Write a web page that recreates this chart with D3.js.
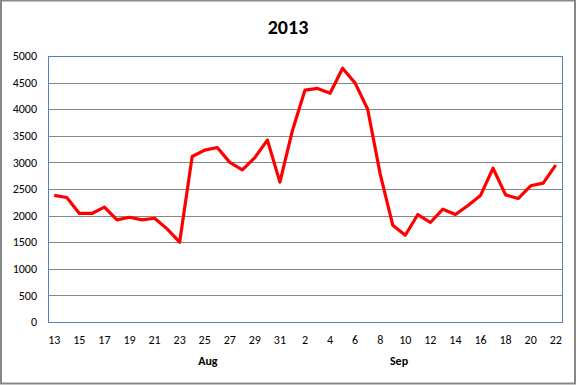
<!DOCTYPE html>
<html>
<head>
<meta charset="utf-8">
<script src="https://cdn.jsdelivr.net/npm/d3@7"></script>
<style>
  body { margin: 0; background: #fff; }
  svg { display: block; font-family: Carlito, Lato, 'Open Sans', sans-serif; }
</style>
</head>
<body>
<svg id="chart" width="577" height="385"></svg>
<script>
const title = '2013'
// days: Aug 13 .. Sep 22
const days = [13, 14, 15, 16, 17, 18, 19, 20, 21, 22, 23, 24, 25, 26, 27, 28, 29, 30, 31,
  1, 2, 3, 4, 5, 6, 7, 8, 9, 10, 11, 12, 13, 14, 15, 16, 17, 18, 19, 20, 21, 22]
const months = ['Aug', 'Aug', 'Aug', 'Aug', 'Aug', 'Aug', 'Aug', 'Aug', 'Aug', 'Aug', 'Aug', 'Aug', 'Aug', 'Aug', 'Aug', 'Aug', 'Aug', 'Aug', 'Aug',
  'Sep', 'Sep', 'Sep', 'Sep', 'Sep', 'Sep', 'Sep', 'Sep', 'Sep', 'Sep', 'Sep', 'Sep', 'Sep', 'Sep', 'Sep', 'Sep', 'Sep', 'Sep', 'Sep', 'Sep', 'Sep', 'Sep']
const values = [2380, 2340, 2040, 2040, 2160, 1920, 1970, 1920, 1950, 1750, 1500,
  3110, 3230, 3280, 3000, 2860, 3090, 3420, 2630,
  3600, 4360, 4390, 4300, 4770, 4490, 4000, 2780, 1820, 1630, 2020, 1870, 2120,
  2020, 2190, 2380, 2890, 2390, 2320, 2560, 2610, 2950]
const yTicks = [0, 500, 1000, 1500, 2000, 2500, 3000, 3500, 4000, 4500, 5000]
// month label anchors (index into days)
const monthLabels = ['Aug', 'Sep']
const monthAnchors = [12.25, 27.5]

const svg = d3.select('#chart')
const W = 577, H = 385
const m = { left: 48, right: 15, top: 56, bottom: 63 }
const pw = W - m.left - m.right
const ph = H - m.top - m.bottom

// outer frame
svg.append('rect')
  .attr('x', 1).attr('y', 0.5).attr('width', W - 3).attr('height', H - 2)
  .style('fill', '#fff').style('stroke', '#888').style('stroke-width', 2)

svg.append('text')
  .attr('x', 288).attr('y', 34)
  .style('text-anchor', 'middle')
  .style('font-size', '20px').style('font-weight', 'bold')
  .text(title)

const idx = d3.range(days.length)
const x = d3.scaleBand().domain(idx).range([m.left, m.left + pw])
const xc = (i) => m.left + (i + 0.5) * x.step()
const y = d3.scaleLinear().domain([0, 5000]).range([m.top + ph, m.top])

const g = svg.append('g')

// gridlines
g.append('g').selectAll('line').data(yTicks.slice(1)).enter().append('line')
  .attr('x1', m.left).attr('x2', m.left + pw)
  .attr('y1', (d) => Math.round(y(d)) + 0.5).attr('y2', (d) => Math.round(y(d)) + 0.5)
  .style('stroke', '#868686').style('stroke-width', 1)

// plot border
g.append('rect')
  .attr('x', m.left + 0.5).attr('y', Math.round(y(5000)) + 0.5)
  .attr('width', pw).attr('height', Math.round(y(0)) - Math.round(y(5000)))
  .style('fill', 'none').style('stroke', '#4f81bd').style('stroke-width', 1)

// y labels
g.append('g').selectAll('text').data(yTicks).enter().append('text')
  .attr('x', 37).attr('y', (d) => y(d)).attr('dy', '0.35em')
  .style('text-anchor', 'end').style('font-size', '12px').style('fill', '#000')
  .text((d) => d)

// x labels
g.append('g').selectAll('text').data(idx.filter((i) => i % 2 === 0)).enter().append('text')
  .attr('x', xc).attr('y', 344)
  .style('text-anchor', 'middle').style('font-size', '12px').style('fill', '#000')
  .text((i) => days[i])

g.append('g').selectAll('text').data(monthLabels).enter().append('text')
  .attr('x', (d, i) => xc(monthAnchors[i])).attr('y', 365)
  .style('text-anchor', 'middle').style('font-size', '12px').style('font-weight', 'bold')
  .text((d) => d)

const line = d3.line().x((d, i) => xc(i)).y((d) => y(d))
g.append('path')
  .datum(values)
  .attr('d', line)
  .style('fill', 'none').style('stroke', '#ff0000').style('stroke-width', 3.2)
  .style('stroke-linejoin', 'round')
</script>
</body>
</html>
